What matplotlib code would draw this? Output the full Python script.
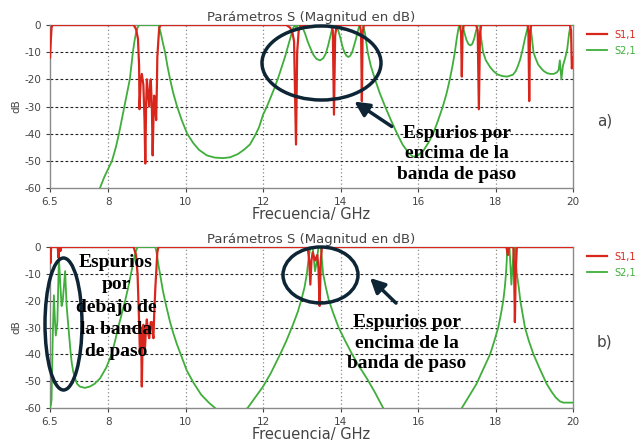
import numpy as np
import matplotlib
matplotlib.use('Agg')
import matplotlib.pyplot as plt
from matplotlib.patches import Ellipse, FancyArrowPatch

plt.rcParams['axes.unicode_minus'] = False

W, H = 638, 448

x_ticks = [6.5, 8, 10, 12, 14, 16, 18, 20]
y_ticks = [0, -10, -20, -30, -40, -50, -60]

# (frecuencia GHz, dB)
a_s11 = [(6.5, -12), (6.52, -6), (6.54, -1), (6.56, 0), (8.66, 0), (8.72, -1.5), (8.77, -5),
         (8.8, -15), (8.81, -31), (8.84, -21), (8.87, -18), (8.91, -22), (8.94, -35), (8.96, -51),
         (8.98, -30), (9.0, -20), (9.03, -25), (9.06, -30), (9.08, -24), (9.1, -20), (9.13, -30),
         (9.15, -48), (9.17, -35), (9.19, -26), (9.22, -30), (9.24, -35), (9.26, -22), (9.27, -12),
         (9.3, -5), (9.32, -1), (9.36, 0), (12.6, 0), (12.7, -1), (12.76, -3), (12.8, -6),
         (12.85, -44), (12.88, -10), (12.92, -2), (12.97, 0), (13.75, 0), (13.8, -2), (13.83, -33),
         (13.86, -4), (13.9, 0), (14.5, 0), (14.53, -3), (14.55, -28), (14.57, -3), (14.6, 0),
         (17.08, 0), (17.11, -3), (17.13, -19), (17.15, -3), (17.18, 0), (17.5, 0), (17.54, -2),
         (17.57, -31), (17.6, -3), (17.63, 0), (18.83, 0), (18.85, -3), (18.87, -28), (18.89, -3),
         (18.92, 0), (19.92, 0), (19.95, -2), (19.97, -16), (20.0, -12)]

a_s21 = [(7.7, -63), (7.79, -60), (7.9, -56), (8.0, -53), (8.1, -50), (8.2, -45), (8.28, -40),
         (8.35, -35), (8.42, -30), (8.49, -25), (8.56, -20), (8.6, -15), (8.64, -10), (8.68, -6),
         (8.72, -3), (8.76, -1), (8.8, 0), (9.3, 0), (9.36, -3), (9.42, -7), (9.47, -10),
         (9.53, -15), (9.6, -20), (9.68, -25), (9.78, -30), (9.9, -35), (10.04, -40),
         (10.2, -43.5), (10.35, -46), (10.55, -48), (10.75, -48.8), (10.97, -49), (11.15, -48.7),
         (11.35, -47.5), (11.5, -46), (11.66, -44), (11.8, -40.5), (11.9, -37.5), (12.0, -33),
         (12.1, -30), (12.2, -26.5), (12.3, -23), (12.4, -19), (12.48, -15.5), (12.56, -12),
         (12.62, -9), (12.68, -6), (12.72, -4), (12.78, -1), (12.83, 0), (12.86, -1.5),
         (12.9, 0), (12.97, 0), (13.02, -1), (13.08, -3), (13.15, -6), (13.22, -8.5), (13.3, -11),
         (13.38, -12.5), (13.47, -13), (13.55, -12.3), (13.62, -10.5), (13.68, -7.5),
         (13.73, -4.5), (13.78, -1.5), (13.84, 0), (13.9, -0.5), (13.95, -2.5), (14.0, -5),
         (14.05, -8), (14.1, -10), (14.15, -11.3), (14.2, -11.8), (14.25, -11.3), (14.3, -10),
         (14.35, -7.5), (14.4, -5), (14.44, -2.5), (14.48, -0.5), (14.52, 0), (14.58, 0),
         (14.63, -3), (14.67, -7), (14.7, -10), (14.78, -15), (14.89, -20), (15.01, -25),
         (15.15, -30), (15.3, -35), (15.46, -40), (15.6, -44), (15.75, -47), (15.87, -48.5),
         (16.0, -48), (16.15, -46), (16.28, -43), (16.39, -40), (16.52, -35), (16.64, -30),
         (16.74, -25), (16.82, -20), (16.89, -15), (16.95, -10), (17.0, -5), (17.04, -1.5),
         (17.07, 0), (17.13, 0), (17.17, -1.5), (17.2, -3), (17.25, -5.5), (17.3, -7),
         (17.35, -7.5), (17.4, -7), (17.45, -5), (17.5, -2), (17.55, 0), (17.6, 0), (17.63, -5),
         (17.68, -10), (17.75, -13), (17.86, -15.5), (17.95, -17), (18.05, -18.2), (18.18, -18.8),
         (18.3, -19), (18.45, -18.3), (18.52, -17), (18.58, -15), (18.64, -12.5), (18.7, -9),
         (18.76, -5), (18.82, -1.5), (18.86, 0), (18.9, 0), (18.94, -5), (18.98, -10),
         (19.04, -12.5), (19.1, -14.5), (19.18, -16), (19.25, -17), (19.33, -17.7), (19.41, -18),
         (19.5, -18), (19.58, -17.5), (19.63, -16.5), (19.66, -13), (19.7, -20), (19.74, -15),
         (19.8, -12), (19.85, -9), (19.9, -3), (19.94, 0), (20.0, 0)]

b_s11 = [(6.5, 0), (6.51, -6), (6.53, 0), (6.7, 0), (6.72, -4), (6.74, 0), (6.77, -1.5), (6.79, 0),
         (8.66, 0), (8.72, -3), (8.76, -10), (8.8, -28), (8.82, -39), (8.85, -30), (8.87, -52),
         (8.89, -35), (8.91, -29), (8.93, -33), (8.95, -38), (8.98, -30), (9.0, -27), (9.03, -32),
         (9.06, -34), (9.1, -28), (9.13, -28), (9.15, -32), (9.17, -34), (9.19, -25), (9.22, -15),
         (9.24, -10), (9.27, -2), (9.3, 0), (13.15, 0), (13.19, -5), (13.22, -14), (13.25, -5),
         (13.28, -2), (13.34, -5), (13.4, -3), (13.43, -8), (13.46, -22), (13.49, -5), (13.52, 0),
         (18.28, 0), (18.32, -3), (18.35, 0), (18.46, 0), (18.48, -8), (18.5, -28), (18.52, -10),
         (18.55, 0), (20.0, 0)]

b_s21 = [(6.5, -60), (6.52, -59), (6.54, -57), (6.57, -34), (6.6, -18), (6.63, -28), (6.65, -33),
         (6.69, -28), (6.73, -4), (6.77, -15), (6.8, -22), (6.83, -20), (6.89, -9), (6.93, -22),
         (6.97, -29), (7.0, -34), (7.03, -39), (7.06, -43), (7.1, -46.5), (7.15, -49), (7.2, -51),
         (7.27, -52), (7.4, -52.5), (7.53, -52), (7.65, -51), (7.79, -49), (7.87, -47),
         (7.95, -45), (8.02, -42.5), (8.09, -40), (8.18, -35), (8.26, -30), (8.35, -25),
         (8.44, -20), (8.52, -15), (8.59, -10), (8.64, -6.5), (8.68, -3.5), (8.72, -1.5),
         (8.76, 0), (9.22, 0), (9.25, -2), (9.29, -6), (9.34, -10), (9.41, -16), (9.5, -22),
         (9.6, -28), (9.68, -32), (9.77, -36), (9.9, -41), (10.03, -46), (10.2, -50.5),
         (10.4, -55), (10.6, -58), (10.8, -60.5), (11.0, -62), (11.2, -63), (11.4, -62),
         (11.6, -60), (11.8, -56), (12.0, -52), (12.2, -47), (12.44, -40), (12.6, -35),
         (12.77, -29), (12.9, -24), (13.0, -19), (13.07, -15), (13.13, -10), (13.17, -5),
         (13.21, -1), (13.24, 0), (13.28, 0), (13.34, -9), (13.38, -6), (13.43, 0), (13.49, 0),
         (13.52, -5), (13.55, -10), (13.62, -15), (13.7, -20), (13.82, -25), (13.95, -30),
         (14.12, -35), (14.3, -40), (14.48, -44.5), (14.68, -49), (14.88, -54), (15.1, -60),
         (15.3, -64), (16.1, -70), (17.0, -64), (17.13, -60), (17.3, -56), (17.51, -51),
         (17.7, -45), (17.86, -40), (17.97, -35), (18.07, -30), (18.14, -25), (18.2, -20),
         (18.24, -15), (18.27, -10), (18.29, -5), (18.3, 0), (18.36, 0), (18.41, -14),
         (18.45, -5), (18.48, 0), (18.5, 0), (18.52, -5), (18.55, -10), (18.6, -15), (18.64, -20),
         (18.7, -25), (18.76, -30), (18.86, -35), (18.98, -40), (19.13, -45), (19.32, -51),
         (19.45, -54), (19.55, -56), (19.66, -57.5), (19.75, -58), (20.0, -58)]

RED = '#d9261c'
GREEN = '#3fae3a'
NAVY = '#0e2536'
GREY = '#444444'


def fx(x):
    return x / W


def fy(y):
    return 1 - y / H


fig = plt.figure(figsize=(W / 100, H / 100), dpi=100)


def panel(top, bot, s11, s21, tag):
    ax = fig.add_axes([fx(50), fy(bot), 523 / W, (bot - top) / H])
    s11 = np.array(s11)
    s21 = np.array(s21)
    l2, = ax.plot(s21[:, 0], s21[:, 1], color=GREEN, lw=1.3, zorder=3)
    l1, = ax.plot(s11[:, 0], s11[:, 1], color=RED, lw=1.6, zorder=4)
    ax.set_xlim(6.5, 20)
    ax.set_ylim(-60, 0)
    ax.set_xticks(x_ticks)
    ax.set_xticklabels(['6.5', '8', '10', '12', '14', '16', '18', '20'])
    ax.set_yticks(y_ticks)
    ax.tick_params(labelsize=7.5, colors=GREY, length=3, width=0.8)
    for s in ax.spines.values():
        s.set_color('#8a8a8a')
        s.set_linewidth(1.0)
    for v in x_ticks[1:-1]:
        ax.axvline(v, color='#888888', lw=0.9, ls=(0, (1, 2)), zorder=1)
    for h in y_ticks[1:-1]:
        ax.axhline(h, color='#222222', lw=0.8, ls=(0, (2.5, 2)), zorder=1)
    ax.set_title('Parámetros S (Magnitud en dB)', fontsize=9.5, color=GREY, pad=3)
    ax.set_xlabel('Frecuencia/ GHz', fontsize=10.5, color=GREY, labelpad=0)
    ax.set_ylabel('dB', fontsize=7.5, color=GREY, labelpad=2)
    ax.legend([l1, l2], ['S1,1', 'S2,1'], loc='upper left', bbox_to_anchor=(1.02, 0.995),
              frameon=False, fontsize=7, handlelength=2.0, labelspacing=0.6,
              labelcolor='linecolor', borderaxespad=0)
    fig.text(fx(597), fy((top + bot) / 2 + 14), tag, fontsize=11, color=GREY,
             ha='left', va='center')
    return ax


panel(25, 188, a_s11, a_s21, 'a)')
panel(247, 408, b_s11, b_s21, 'b)')


# anotaciones
def ellipse(cx, cy, w, h):
    fig.add_artist(Ellipse((fx(cx), fy(cy)), w / W, h / H, fill=False, ec=NAVY, lw=2.5,
                           transform=fig.transFigure, zorder=10))


def arrow(x0, y0, x1, y1):
    fig.add_artist(FancyArrowPatch((fx(x0), fy(y0)), (fx(x1), fy(y1)), transform=fig.transFigure,
                                   arrowstyle='-|>', mutation_scale=22, lw=2.5, color=NAVY,
                                   zorder=10))


tfont = dict(family='Liberation Serif', weight='bold', fontsize=14, ha='center', va='center',
             color='black', zorder=11)

ellipse(321.5, 63, 119, 74)
arrow(394, 128, 352, 100)
fig.text(fx(457), fy(154), 'Espurios por\nencima de la\nbanda de paso', linespacing=1.3, **tfont)

ellipse(63.5, 324, 37, 132)
fig.text(fx(116), fy(307), 'Espurios\npor\ndebajo de\nla banda\nde paso', linespacing=1.42, **tfont)

ellipse(320.5, 275, 75, 56)
arrow(398, 305, 368, 276)
fig.text(fx(407), fy(343), 'Espurios por\nencima de la\nbanda de paso', linespacing=1.3, **tfont)

fig.savefig('out.png', dpi=100)
